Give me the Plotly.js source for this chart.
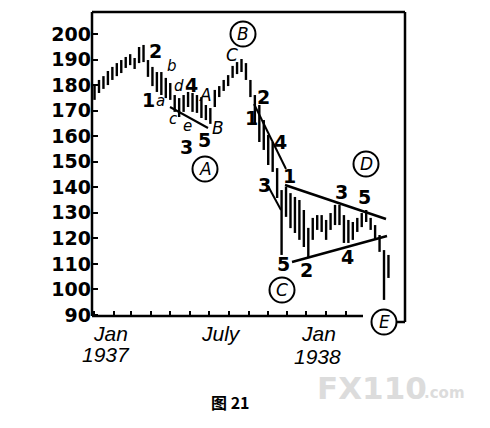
<!DOCTYPE html>
<html><head><meta charset="utf-8">
<script src="https://cdn.plot.ly/plotly-3.0.1.min.js"></script>
<style>html,body{margin:0;padding:0;background:#fff}#chart{width:490px;height:428px}</style>
</head><body><div id="chart"></div>
<script>
// Weekly bars (high / low), DJIA 1937-1938
const weekDates = [
 "1937-01-02","1937-01-09","1937-01-16","1937-01-23","1937-01-30",
 "1937-02-06","1937-02-13","1937-02-20","1937-02-27",
 "1937-03-06","1937-03-13","1937-03-20","1937-03-27",
 "1937-04-03","1937-04-10","1937-04-17","1937-04-24",
 "1937-05-01","1937-05-08","1937-05-15","1937-05-22","1937-05-29",
 "1937-06-05","1937-06-12","1937-06-19","1937-06-26",
 "1937-07-03","1937-07-10","1937-07-17","1937-07-24","1937-07-31",
 "1937-08-07","1937-08-14","1937-08-21","1937-08-28",
 "1937-09-04","1937-09-11","1937-09-18","1937-09-25",
 "1937-10-02","1937-10-09","1937-10-16","1937-10-23","1937-10-30",
 "1937-11-06","1937-11-13","1937-11-20","1937-11-27",
 "1937-12-04","1937-12-11","1937-12-18","1937-12-25",
 "1938-01-01","1938-01-08","1938-01-15","1938-01-22","1938-01-29",
 "1938-02-05","1938-02-12","1938-02-19","1938-02-26",
 "1938-03-05","1938-03-12","1938-03-19","1938-03-26",
 "1938-04-02","1938-04-09"];
const weekHigh = [
 180.0,182.0,183.5,185.5,187.1,
 188.6,189.8,191.0,192.1,
 190.6,194.9,195.7,189.8,
 187.1,185.1,185.1,182.8,
 180.8,176.1,174.9,176.1,177.3,
 176.9,176.1,175.3,172.2,
 171.0,178.1,179.6,182.0,183.9,
 187.5,189.0,190.2,188.6,
 182.0,176.1,172.2,166.3,
 160.5,157.7,147.5,138.9,140.1,
 137.7,136.2,135.0,131.1,
 124.1,128.0,129.1,129.1,
 127.2,129.9,133.1,133.1,129.1,
 127.2,126.4,128.0,129.9,
 131.1,128.0,125.2,121.3,
 115.4,113.5];
const weekLow = [
 174.2,176.9,178.5,180.0,182.0,
 183.5,184.7,186.7,187.8,
 186.3,188.6,189.0,183.2,
 179.6,177.3,176.1,174.9,
 174.2,169.5,167.5,169.5,171.4,
 169.5,169.1,167.1,166.3,
 164.8,171.4,175.3,177.7,179.6,
 182.8,184.3,185.1,182.0,
 175.3,165.1,157.7,154.6,
 148.7,146.0,135.8,113.5,128.4,
 124.0,122.1,119.4,116.6,
 112.7,119.4,123.3,122.5,
 119.4,123.3,125.2,125.2,118.2,
 118.2,119.4,122.5,124.4,
 126.4,123.3,119.4,114.7,
 95.9,104.5];

const yTicks = [90,100,110,120,130,140,150,160,170,180,190,200];
const monthTicks = ["1937-01-01","1937-02-01","1937-03-01","1937-04-01","1937-05-01","1937-06-01",
 "1937-07-01","1937-08-01","1937-09-01","1937-10-01","1937-11-01","1937-12-01","1938-01-01","1938-02-01"];
const xLabelTexts = ["Jan", "1937", "July", "Jan", "1938"];
const waveDigits = ["2","1","4","3","5","2","1","4","3","1","5","2","3","5","4"];
const waveLetters = ["b","a","d","c","e"];
const waveCaps = ["A","B","C"];
const circledLabels = ["A","B","C","D","E"];

// build high-low segments
const segX = [], segY = [];
weekDates.forEach((d,i)=>{ segX.push(d,d,null); segY.push(weekHigh[i],weekLow[i],null); });

// pixel -> paper helpers (plot area 92..405 x 12..316)
const L=92, R=405, T=12, B=316;
const px = x => (x-L)/(R-L);
const py = y => (B-y)/(B-T);

const digitPos = [[155,51],[148,100],[191,85],[186,147],[204,140],[263,97],[251,118],[280,142],
 [264,185],[289,176],[283,264],[306,270],[341,192],[364,197],[347,257]];
const letterPos = [[172,66],[160,101],[179,86],[173,119],[187,126]];
const capPos = [[205,95],[218,128],[232,55]];
const circlePos = [[205,169],[243,34],[282,290],[366,164],[384,322]];
const xLabelPos = [[110,333],[106,354],[221,333],[318,333],[317,356]];

const ann = [];
waveDigits.forEach((t,i)=>ann.push({text:t,x:px(digitPos[i][0]),y:py(digitPos[i][1]),
  font:{family:"DejaVu Sans",size:19,weight:"bold",color:"#000"}}));
waveLetters.forEach((t,i)=>ann.push({text:t,x:px(letterPos[i][0]),y:py(letterPos[i][1]),
  font:{family:"DejaVu Sans",size:15,style:"italic",color:"#000"}}));
waveCaps.forEach((t,i)=>ann.push({text:t,x:px(capPos[i][0]),y:py(capPos[i][1]),
  font:{family:"DejaVu Sans",size:17,style:"italic",color:"#000"}}));
circledLabels.forEach((t,i)=>ann.push({text:t,x:px(circlePos[i][0]),y:py(circlePos[i][1]),
  font:{family:"DejaVu Sans",size:17,style:"italic",color:"#000"}}));
xLabelTexts.forEach((t,i)=>ann.push({text:t,x:px(xLabelPos[i][0]),y:py(xLabelPos[i][1]),
  font:{family:"Liberation Sans Narrow, Liberation Sans",size:21,style:"italic",color:"#000"}}));
ann.push({text:"图 21",x:px(230),y:py(402),font:{family:"Noto Sans CJK SC",size:16,weight:"bold",color:"#000"}});
ann.push({text:"FX110",x:px(372),y:py(388),font:{family:"DejaVu Sans",size:31,weight:"bold",color:"#dcdcdc"}});
ann.push({text:".com",x:px(444),y:py(393),font:{family:"DejaVu Sans",size:15,weight:"bold",color:"#dcdcdc"}});
ann.forEach(a=>{a.xref="paper";a.yref="paper";a.showarrow=false;a.xanchor="center";a.yanchor="middle";});

const shapes = [];
const ln = (x0,y0,x1,y1,w)=>shapes.push({type:"line",xref:"paper",yref:"paper",
  x0:px(x0),y0:py(y0),x1:px(x1),y1:py(y1),line:{color:"#000",width:w},layer:"above"});
// frame
ln(92,12,92,316,2.5); ln(92,12,405,12,2.5); ln(405,12,405,322,2.5); ln(397,322,405,322,2.5); ln(92,316,363,316,2.5);
// wave lines
ln(170,107,208,128,2); ln(254,104,286,169,2); ln(268,186,281,210,2);
ln(285,185,386,219,2.5); ln(292,262,387,236,2.5);
// circles
circlePos.forEach(c=>shapes.push({type:"circle",xref:"paper",yref:"paper",
  x0:px(c[0]-12.5),x1:px(c[0]+12.5),y0:py(c[1]+12.5),y1:py(c[1]-12.5),line:{color:"#000",width:2}}));

Plotly.newPlot("chart",[{
  type:"scatter",mode:"lines",x:segX,y:segY,connectgaps:false,
  line:{color:"#000",width:2.4},hoverinfo:"skip",showlegend:false
}],{
  width:490,height:428,margin:{l:L,r:490-R,t:T,b:428-B,pad:0},
  paper_bgcolor:"#fff",plot_bgcolor:"#fff",showlegend:false,
  xaxis:{type:"date",range:["1936-12-29","1938-05-05"],showgrid:false,zeroline:false,showline:false,
    tickmode:"array",tickvals:monthTicks,ticks:"inside",ticklen:5,tickwidth:2,tickcolor:"#000",showticklabels:false},
  yaxis:{range:[89.6,208.6],showgrid:false,zeroline:false,showline:false,tickmode:"array",tickvals:yTicks,
    ticks:"inside",ticklen:6,tickwidth:2,tickcolor:"#000",
    tickfont:{family:"DejaVu Sans",size:19,weight:"bold",color:"#000"}},
  annotations:ann,shapes:shapes
},{displayModeBar:false,staticPlot:true});
</script></body></html>
